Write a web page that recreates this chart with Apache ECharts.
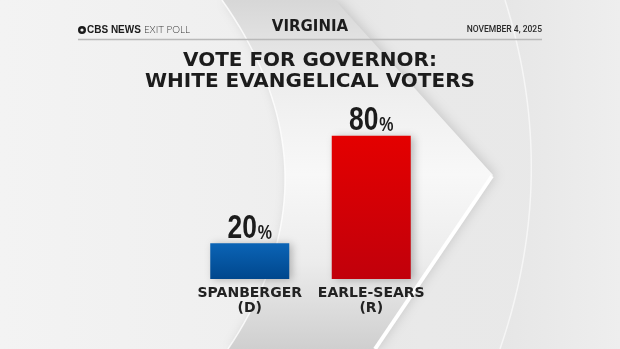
<!DOCTYPE html>
<html>
<head>
<meta charset="utf-8">
<script src="https://cdn.jsdelivr.net/npm/echarts@6/dist/echarts.min.js"></script>
<style>
html,body{margin:0;padding:0;background:#ececec;}
#chart{width:620px;height:349px;}
</style>
</head>
<body>
<div id="chart"></div>
<script>
const categories = ['SPANBERGER', 'EARLE-SEARS'];
const parties = ['(D)', '(R)'];
const values = [20, 80];
const headerLeftBold = 'CBS NEWS';
const headerLeftLight = 'EXIT POLL';
const headerCenter = 'VIRGINIA';
const headerRight = 'NOVEMBER 4, 2025';
const titleLines = ['VOTE FOR GOVERNOR:', 'WHITE EVANGELICAL VOTERS'];

const chart = echarts.init(document.getElementById('chart'), null, {renderer: 'canvas'});

function lg(x1, y1, x2, y2, stops) {
  return new echarts.graphic.LinearGradient(x1, y1, x2, y2, stops.map(c => ({offset: c[0], color: c[1]})));
}
// points along a quadratic curve (background decoration only)
function quad(p0, p1, p2, n) {
  const pts = [];
  for (let k = 0; k <= n; k++) {
    const t = k / n, u = 1 - t;
    pts.push([u*u*p0[0] + 2*u*t*p1[0] + t*t*p2[0], u*u*p0[1] + 2*u*t*p1[1] + t*t*p2[1]]);
  }
  return pts;
}

const barStyles = [
  {color: lg(0,0,0,1,[[0,'#0b64b6'],[1,'#00478d']])},
  {color: lg(0,0,0,1,[[0,'#e40000'],[1,'#c1000b']])}
];

const arcBig = quad([222,0],[345,175],[228,349],40);
const arcOuter = quad([505,0],[560,175],[500,349],40);

const bg = [
  {type:'rect', z:-100, shape:{x:0,y:0,width:620,height:349}, style:{fill: lg(0,0,1,0,[[0,'#f3f3f3'],[0.4,'#efefef'],[1,'#e7e7e7']])}},
  {type:'polygon', z:-99, shape:{points: arcBig.concat([[620,349],[620,0]])}, style:{fill: lg(0,0,1,0,[[0,'#e3e3e3'],[0.5,'#e9e9e9'],[1,'#e8e8e8']])}},
  {type:'polygon', z:-98, shape:{points: arcOuter.concat([[620,349],[620,0]])}, style:{fill: lg(0,0,1,0,[[0,'#e6e6e6'],[1,'#eeeeee']])}},
  {type:'polyline', z:-98, shape:{points: arcOuter}, style:{stroke:'rgba(255,255,255,0.6)', lineWidth:1.5}},
  {type:'polygon', z:-97, shape:{points: [[335,0],[493,175],[375,349]].concat(arcBig.slice().reverse())}, style:{fill: lg(0,0,0,1,[[0,'#d7d7d7'],[0.25,'#eeeeee'],[0.5,'#f8f8f8'],[0.75,'#ececec'],[1,'#cfcfcf']]), shadowBlur:12, shadowColor:'rgba(0,0,0,0.14)', shadowOffsetX:3}},
  {type:'polyline', z:-96, shape:{points:[[492,176],[375,349]]}, style:{stroke:'#ffffff', lineWidth:4}},
  {type:'polyline', z:-96, shape:{points: arcBig}, style:{stroke:'rgba(255,255,255,0.8)', lineWidth:1.5}},
  {type:'line', z:10, shape:{x1:78,y1:39.5,x2:542,y2:39.5}, style:{stroke:'#b9b9b9', lineWidth:1.5}},
  {type:'circle', z:10, shape:{cx:82,cy:30,r:4}, style:{fill:'#1a1a1a'}},
  {type:'circle', z:11, shape:{cx:82,cy:30,r:1.6}, style:{fill:'#f0f0f0'}},
  {type:'text', z:10, left:87, top:25, style:{
    text:'{b|' + headerLeftBold + '}{l|' + headerLeftLight + '}',
    rich:{
      b:{fontFamily:'"Liberation Sans", sans-serif', fontWeight:'bold', fontSize:10, fill:'#1a1a1a', padding:[0,3,0,0]},
      l:{fontFamily:'Lato, sans-serif', fontWeight:300, fontSize:9.8, fill:'#3a3a3a'}
    }}},
  {type:'text', z:10, left:'center', top:20, style:{text:headerCenter, font:'bold 15px "DejaVu Sans", sans-serif', fill:'#1c1c1c'}},
  {type:'text', z:10, right:78, top:25.5, style:{text:headerRight, font:'500 8.5px Roboto, sans-serif', fill:'#2a2a2a'}},
  {type:'text', z:10, left:'center', top:51, style:{text:titleLines[0], font:'bold 20px "DejaVu Sans", sans-serif', fill:'#1c1c1c'}},
  {type:'text', z:10, left:'center', top:71.5, style:{text:titleLines[1], font:'bold 20px "DejaVu Sans", sans-serif', fill:'#1c1c1c'}}
];

chart.setOption({
  animation:false,
  backgroundColor:'transparent',
  graphic:{elements:bg},
  grid:{left:189, right:188, top:100, bottom:70},
  xAxis:{
    type:'category', data:categories,
    axisLine:{show:false}, axisTick:{show:false}, splitLine:{show:false},
    axisLabel:{
      margin:7, interval:0,
      formatter:(v, i) => v + '\n' + parties[i],
      fontFamily:'"DejaVu Sans", sans-serif', fontWeight:'bold', fontSize:14, lineHeight:15, color:'#222'
    }
  },
  yAxis:{type:'value', min:0, max:100, show:false, splitLine:{show:false}},
  series:[{
    type:'bar', barWidth:79,
    data: values.map((v, i) => ({value:v, itemStyle:barStyles[i]})),
    itemStyle:{shadowBlur:8, shadowColor:'rgba(0,0,0,0.25)', shadowOffsetX:3, shadowOffsetY:1}
  }, {
    // value labels, placed through the same axes, with a condensed look
    type:'custom', z:5,
    data: values.map((v, i) => [i, v]),
    renderItem: (params, api) => {
      const pt = api.coord([api.value(0), api.value(1)]);
      return {
        type:'text', x:pt[0], y:pt[1] + 2, scaleX:0.8,
        style:{
          text:'{n|' + api.value(1) + '}{p|%}',
          align:'center', verticalAlign:'bottom',
          rich:{
            n:{fontFamily:'"Liberation Sans", Arial, sans-serif', fontWeight:'bold', fontSize:33, fill:'#1c1c1c', verticalAlign:'bottom'},
            p:{fontFamily:'"Liberation Sans", Arial, sans-serif', fontWeight:'bold', fontSize:20, fill:'#1c1c1c', verticalAlign:'bottom', padding:[0,0,2,1]}
          }
        }
      };
    }
  }]
});
</script>
</body>
</html>
